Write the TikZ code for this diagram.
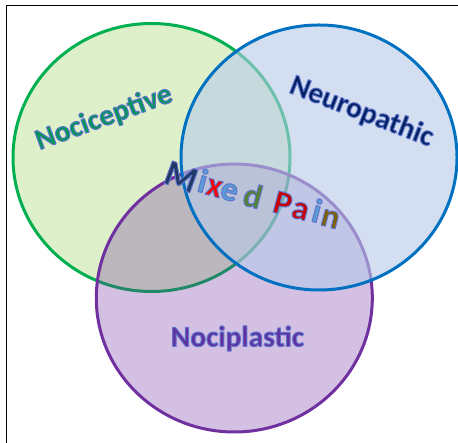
\documentclass[tikz,border=0pt]{standalone}
\usepackage{fontspec}
\setmainfont{Carlito}

% fills and outlines of the three pain types
\definecolor{nocfill}{RGB}{146,208,80}
\definecolor{nocline}{RGB}{0,176,80}
\definecolor{neufill}{RGB}{183,203,233}
\definecolor{neuline}{RGB}{0,112,192}
\definecolor{plafill}{RGB}{112,48,160}
\definecolor{plaline}{RGB}{112,48,160}
% label colours
\definecolor{noctext}{RGB}{0,150,85}
\definecolor{neutext}{RGB}{0,32,96}
\definecolor{platext}{RGB}{96,48,160}
\definecolor{navy}{RGB}{31,56,100}
\definecolor{skyblue}{RGB}{91,155,213}
\definecolor{brightred}{RGB}{255,0,0}
\definecolor{darkred}{RGB}{200,0,0}
\definecolor{leaf}{RGB}{84,130,53}
\definecolor{olive}{RGB}{127,96,0}

% bluish rim round the glyphs: fill and stroke the letters
\newcommand\glowtext[1]{%
  \special{pdf:literal direct 2 Tr 1 j 1.0 w 0.38 0.46 0.80 RG}%
  #1%
  \special{pdf:literal direct 0 Tr}}

\begin{document}
\begin{tikzpicture}[x=1bp,y=1bp,
  ring/.style={line width=3bp},
  lbl/.style={inner sep=0pt, font=\bfseries\fontsize{29.5}{34}\selectfont},
  mixl/.style={inner sep=0pt, anchor=base, rotate=-15,
               font=\bfseries\fontsize{34}{38}\selectfont},
]
\useasboundingbox (0,0) rectangle (458,443);
\fill[white] (0,0) rectangle (458,443);

% frame
\draw[line width=1bp] (6.3,-5) -- (6.3,437.7) -- (470,437.7);

% the three sets, layered: nociceptive, nociplastic, neuropathic
\path[ring, draw=nocline, fill=nocfill, fill opacity=0.3]
  (151.5,285.5) ellipse [x radius=138.5, y radius=134];
\path[ring, draw=plaline, fill=plafill, fill opacity=0.3]
  (234.3,145) ellipse [x radius=138, y radius=134];
\path[ring, draw=neuline, fill=neufill, fill opacity=0.6]
  (319,285.5) ellipse [x radius=138, y radius=132.5];

% set labels
\node[lbl, rotate=20, text=noctext] (nociceptive) at (104,325)
  {\glowtext{Nociceptive}};
\node[lbl, rotate=-21, text=neutext] (neuropathic) at (361.5,331)
  {\glowtext{Neuropathic}};
\node[lbl, anchor=base, text=platext] (nociplastic) at (237.5,96.5)
  {\glowtext{Nociplastic}};

% "Mixed Pain" across the overlap, one letter at a time
\node[mixl, rotate=-5, font=\bfseries\fontsize{37}{40}\selectfont, text=navy]
  (mM) at (177,255) {\glowtext{M}};
\node[mixl, text=skyblue]   (mi) at (200,251) {\glowtext{i}};
\node[mixl, text=brightred] (mx) at (212,247) {\glowtext{x}};
\node[mixl, text=skyblue]   (me) at (227,243) {\glowtext{e}};
\node[mixl, text=leaf]      (md) at (250,236) {\glowtext{d}};
\node[mixl, text=darkred]   (pP) at (280,229) {\glowtext{P}};
\node[mixl, text=darkred]   (pa) at (298,224) {\glowtext{a}};
\node[mixl, text=skyblue]   (pi) at (314,221) {\glowtext{i}};
\node[mixl, text=olive]     (pn) at (328,216) {\glowtext{n}};
\end{tikzpicture}
\end{document}
